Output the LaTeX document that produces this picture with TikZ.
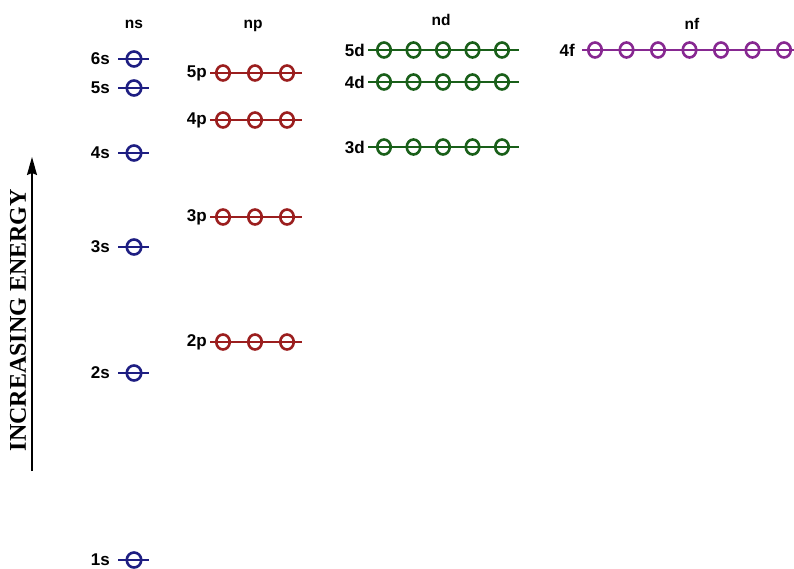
\documentclass[tikz,border=0pt]{standalone}
\usepackage{fontspec}
\setmainfont{Liberation Sans}
\newfontfamily\energyfont{Liberation Serif}
\usetikzlibrary{arrows.meta,shapes.geometric}
\definecolor{sblue}{RGB}{30,30,130}
\definecolor{pred}{RGB}{155,30,30}
\definecolor{dgreen}{RGB}{25,95,25}
\definecolor{fviolet}{RGB}{135,40,145}
\tikzset{
  orb/.style={draw,ellipse,line width=2.6pt,minimum width=13.5pt,minimum height=15pt,inner sep=0pt},
  lvlline/.style={line width=1.6pt},
  lvl/.style={font=\fontsize{17}{19}\selectfont\bfseries,anchor=east,inner sep=0pt},
  head/.style={font=\fontsize{15.5}{18}\selectfont\bfseries,anchor=base}
}
\begin{document}
\begin{tikzpicture}[x=1pt,y=-1pt]
\useasboundingbox (0,0) rectangle (794,569);
% column headers
\node[head] (hs) at (134,29) {ns};
\node[head] (hp) at (253,29) {np};
\node[head] (hd) at (441,26) {nd};
\node[head] (hf) at (692,30) {nf};
% energy axis
\coordinate (arrbot) at (32,471);
\coordinate (arrtop) at (32,157);
\draw[-{Stealth[length=18pt,width=10pt,inset=2pt]},line width=1.6pt] (arrbot) -- (arrtop);
\node[rotate=90,font=\energyfont\bfseries\fontsize{24}{28}\selectfont] (energy) at (18,320) {INCREASING ENERGY};
% s levels
\foreach \n/\y in {1/560,2/373,3/247,4/153,5/88,6/59} {
  \node[lvl] (l\n s) at (110,\y) {\n s};
  \node[orb,sblue,minimum width=14.5pt] (o\n s1) at (134,\y) {};
  \coordinate (a\n s) at (118,\y);
  \coordinate (b\n s) at (149,\y);
  \draw[sblue,lvlline] (a\n s) -- (b\n s);
}
% p levels
\foreach \n/\y in {2/342,3/217,4/120,5/73} {
  \node[lvl] (l\n p) at (207,\y) {\n p};
  \foreach \k in {1,2,3}
    \node[orb,pred] (o\n p\k) at (223+32*\k-32,\y) {};
  \coordinate (a\n p) at (210,\y);
  \coordinate (b\n p) at (302,\y);
  \draw[pred,lvlline] (a\n p) -- (b\n p);
}
% d levels
\foreach \n/\y in {3/147,4/82,5/50} {
  \node[lvl] (l\n d) at (365,\y) {\n d};
  \foreach \k in {1,...,5}
    \node[orb,dgreen] (o\n d\k) at (384+29.5*\k-29.5,\y) {};
  \coordinate (a\n d) at (368,\y);
  \coordinate (b\n d) at (519,\y);
  \draw[dgreen,lvlline] (a\n d) -- (b\n d);
}
% f level
\node[lvl] (l4f) at (575,50) {4f};
\foreach \k in {1,...,7}
  \node[orb,fviolet] (o4f\k) at (595+31.5*\k-31.5,50) {};
\coordinate (a4f) at (582,50);
\coordinate (b4f) at (794,50);
\draw[fviolet,lvlline] (a4f) -- (b4f);
\end{tikzpicture}
\end{document}
